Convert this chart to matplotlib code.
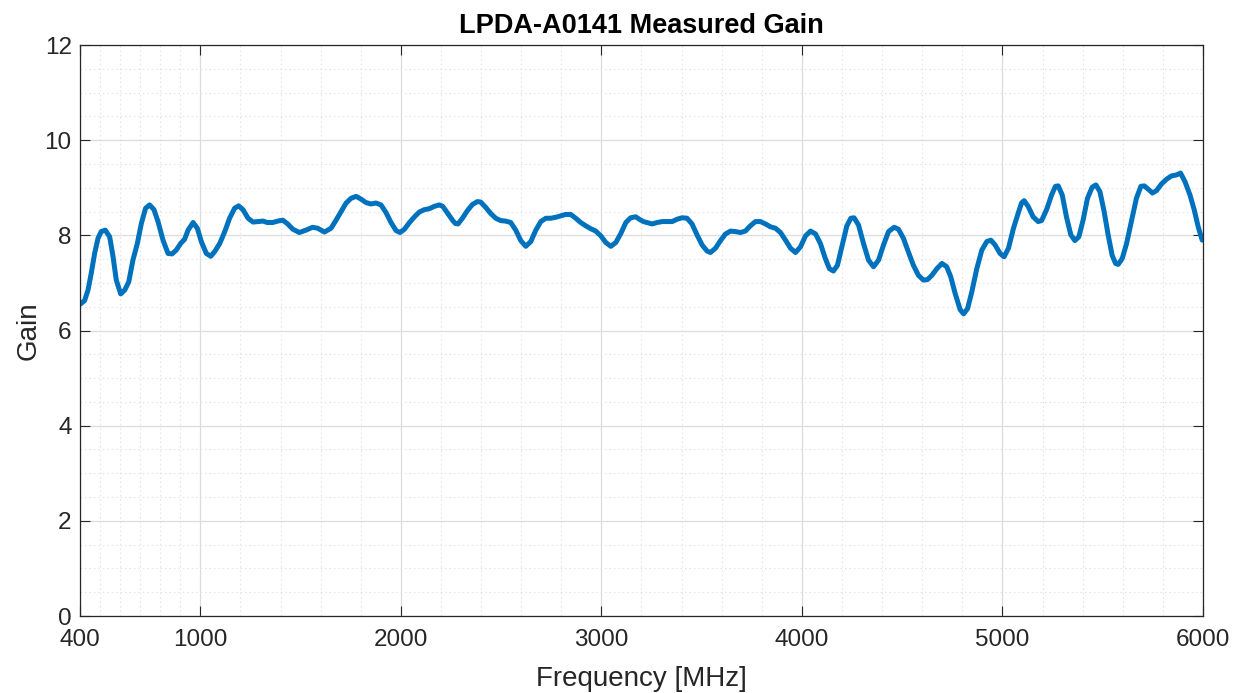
import matplotlib
matplotlib.use('Agg')
import matplotlib.pyplot as plt

# valores
freq = [403, 423, 440, 456, 473, 490, 506, 526, 548, 565, 581, 603, 623, 643, 664, 686,
        706, 727, 747, 769, 789, 814, 839, 859, 880, 902, 922, 939, 964, 985, 1005, 1030,
        1052, 1072, 1097, 1122, 1146, 1171, 1191, 1213, 1238, 1263, 1288, 1313, 1334,
        1361, 1386, 1411, 1436, 1461, 1494, 1527, 1560, 1585, 1619, 1652, 1677, 1702,
        1727, 1752, 1777, 1802, 1826, 1851, 1876, 1901, 1926, 1951, 1976, 1996, 2018,
        2043, 2068, 2092, 2117, 2142, 2167, 2192, 2209, 2234, 2259, 2272,
        2285, 2307, 2332, 2357, 2382, 2398, 2423, 2448, 2473, 2498, 2523, 2548, 2573,
        2598, 2623, 2648, 2673, 2698, 2723, 2748, 2772, 2797, 2822, 2847, 2872, 2897,
        2922, 2947, 2972, 2997, 3022, 3047, 3072, 3097, 3122, 3146, 3171, 3196,
        3210, 3228, 3253, 3278, 3303, 3328, 3353, 3378, 3403, 3427, 3452, 3477, 3502,
        3527, 3544, 3569, 3594, 3619, 3644, 3668, 3693, 3718, 3743, 3768, 3793, 3818,
        3843, 3868, 3893, 3918, 3943, 3968, 3993, 4018, 4043, 4068, 4092, 4117, 4137,
        4157, 4177, 4199, 4224, 4244, 4260, 4282, 4307, 4332, 4357, 4382, 4407, 4432,
        4460, 4481, 4506, 4531, 4556, 4581, 4606, 4626, 4648, 4673, 4698, 4722, 4742,
        4764, 4789, 4806, 4826, 4847, 4872, 4897, 4922, 4942, 4963, 4988, 5008, 5030,
        5055, 5078, 5095, 5108, 5128, 5153, 5178, 5195, 5220, 5245, 5264, 5278,
        5298, 5319, 5341, 5361, 5381, 5402, 5424, 5447, 5466, 5486, 5507, 5527, 5547,
        5564, 5577, 5597, 5619, 5644, 5668, 5690, 5707, 5727, 5748, 5768, 5793, 5818,
        5843, 5868, 5888, 5910, 5935, 5956, 5976, 5996]
gain = [6.56, 6.63, 6.85, 7.20, 7.62, 7.94, 8.08, 8.11, 7.97, 7.55, 7.06, 6.77, 6.85, 7.02,
        7.48, 7.83, 8.25, 8.57, 8.64, 8.54, 8.29, 7.90, 7.62, 7.61, 7.69, 7.83, 7.92,
        8.11, 8.27, 8.15, 7.87, 7.62, 7.56, 7.66, 7.83, 8.08, 8.36, 8.57, 8.62, 8.54,
        8.36, 8.28, 8.29, 8.30, 8.27,
        8.27, 8.30, 8.32, 8.24, 8.13, 8.06, 8.11, 8.17, 8.15, 8.07, 8.15, 8.32, 8.50,
        8.68, 8.78, 8.82, 8.76, 8.69, 8.66, 8.68, 8.64, 8.48, 8.27, 8.10, 8.06, 8.13,
        8.27, 8.39, 8.49, 8.54, 8.56, 8.61, 8.64, 8.61, 8.46, 8.31, 8.25,
        8.24, 8.36, 8.52, 8.65, 8.71, 8.70, 8.59, 8.46, 8.36, 8.31, 8.30, 8.27, 8.11,
        7.89, 7.77, 7.87, 8.11, 8.29, 8.36, 8.36, 8.38, 8.41, 8.44, 8.44, 8.36, 8.27,
        8.20, 8.14, 8.09, 7.99, 7.85, 7.77, 7.85, 8.04, 8.27, 8.37, 8.39, 8.32,
        8.29, 8.27, 8.24, 8.27, 8.29, 8.29, 8.29, 8.34, 8.37, 8.36, 8.24, 8.01, 7.80,
        7.67, 7.64, 7.73, 7.89, 8.03, 8.09, 8.08, 8.06, 8.09, 8.20, 8.29, 8.29, 8.24,
        8.18, 8.15, 8.06, 7.90, 7.73, 7.64, 7.76, 7.99, 8.09, 8.03, 7.83, 7.51, 7.30,
        7.25, 7.37, 7.76, 8.20, 8.36, 8.37, 8.22, 7.83, 7.48, 7.34, 7.48, 7.80, 8.08,
        8.17, 8.13, 7.94, 7.65, 7.37, 7.16, 7.06, 7.07, 7.16, 7.30, 7.41, 7.34, 7.13,
        6.78, 6.44, 6.35, 6.46, 6.81, 7.30, 7.69, 7.87, 7.90, 7.80, 7.62, 7.55, 7.73,
        8.15, 8.46, 8.68, 8.73, 8.61, 8.39, 8.29, 8.31, 8.54, 8.85, 9.03, 9.04,
        8.85, 8.39, 8.01, 7.89, 7.97, 8.32, 8.78, 9.01, 9.06, 8.92, 8.50, 8.01, 7.58,
        7.41, 7.39, 7.51, 7.83, 8.32, 8.78, 9.03, 9.04, 8.97, 8.89, 8.94, 9.08, 9.18,
        9.25, 9.27, 9.31, 9.13, 8.85, 8.54, 8.18, 7.90]

xticks = [400, 1000, 2000, 3000, 4000, 5000, 6000]
xminor = [500, 600, 700, 800, 900] + [f for f in range(1200, 6000, 200) if f % 1000 != 0]
yticks = [0, 2, 4, 6, 8, 10, 12]
yminor = [v / 2 for v in range(0, 25) if v % 4 != 0]

plt.rcParams['font.family'] = ['Liberation Sans', 'DejaVu Sans']
gris = '#262626'

fig = plt.figure(figsize=(12.42, 6.93), dpi=100)
ax = fig.add_axes([0.0644, 0.1111, 0.9042, 0.8239])

ax.plot(freq, gain, color='#0072BD', linewidth=3.6, solid_joinstyle='round',
        solid_capstyle='round')

ax.set_xlim(400, 6000)
ax.set_ylim(0, 12)
ax.set_xticks(xticks)
ax.set_xticks(xminor, minor=True)
ax.set_yticks(yticks)
ax.set_yticks(yminor, minor=True)

ax.grid(True, which='major', color='#dcdcdc', linewidth=0.9, linestyle='-')
ax.grid(True, which='minor', color='#e6e6e6', linewidth=0.8, linestyle=(0, (1.5, 2.5)))
ax.set_axisbelow(True)

ax.tick_params(which='major', direction='in', length=7, width=0.8, colors=gris,
               labelsize=17.5, top=True, right=True)
ax.tick_params(axis='x', which='major', pad=9)
ax.tick_params(axis='y', which='major', pad=6)
ax.tick_params(which='minor', length=0, top=True, right=True)
for s in ax.spines.values():
    s.set_color(gris)
    s.set_linewidth(0.9)

ax.set_xlabel('Frequency [MHz]', fontsize=20, color=gris, labelpad=11)
ax.set_ylabel('Gain', fontsize=20, color=gris, labelpad=2)
ax.set_title('LPDA-A0141 Measured Gain', fontsize=19.5, fontweight='bold', color='black', pad=9)

fig.savefig('out.png', dpi=100)
